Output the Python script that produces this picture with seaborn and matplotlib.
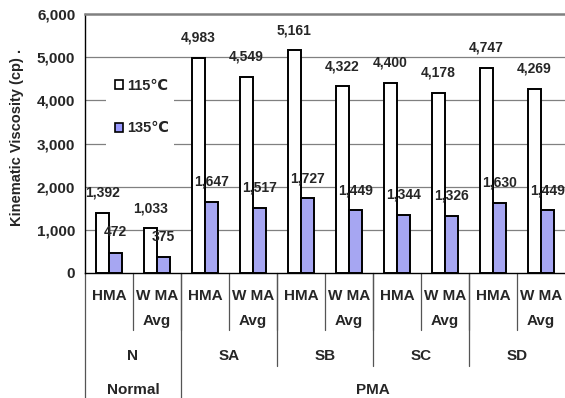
import matplotlib
matplotlib.use("Agg")
import matplotlib.pyplot as plt
import matplotlib.transforms as mtransforms
from matplotlib.patches import Patch, Rectangle
from matplotlib.lines import Line2D
import seaborn as sns
import pandas as pd

# ---- data -------------------------------------------------------------
mix_labels = ["HMA", "W MA\nAvg"] * 5
binder_labels = ["N", "SA", "SB", "SC", "SD"]
type_labels = ["Normal", "PMA"]
temps = ["115\u2103", "135\u2103"]
visc_115 = [1392, 1033, 4983, 4549, 5161, 4322, 4400, 4178, 4747, 4269]
visc_135 = [472, 375, 1647, 1517, 1727, 1449, 1344, 1326, 1630, 1449]

sns.set_theme(style="white")
plt.rcParams["font.family"] = ["Liberation Sans", "DejaVu Sans"]
plt.rcParams["font.weight"] = "bold"

cats = [f"{binder_labels[i // 2]}-{mix_labels[i]}" for i in range(len(mix_labels))]
df = pd.DataFrame({
    "cat": cats * 2,
    "temp": [temps[0]] * len(cats) + [temps[1]] * len(cats),
    "visc": visc_115 + visc_135,
})

W, H = 565, 398
fig = plt.figure(figsize=(W / 100, H / 100), dpi=100)
ax_l, ax_r, ax_t, ax_b = 85, 565, 14, 273
ax_w, ax_h = ax_r - ax_l, ax_b - ax_t
ax = fig.add_axes([ax_l / W, 1 - ax_b / H, ax_w / W, ax_h / H])


def ax_x(px):
    return (px - ax_l) / ax_w


def ax_y(py):
    return (ax_b - py) / ax_h


sns.barplot(data=df, x="cat", y="visc", hue="temp", order=cats, hue_order=temps,
            palette=["white", "#9999FF"], width=0.56, gap=0,
            edgecolor="black", linewidth=1.4, ax=ax, legend=False, zorder=3)

ax.set_xlim(-0.5, 9.5)
ax.set_ylim(0, 6000)
ax.set_yticks(range(0, 6001, 1000))
ax.set_yticklabels([f"{v:,}" for v in range(0, 6001, 1000)], fontsize=11, fontweight="bold")
ax.tick_params(axis="y", length=0, pad=7)
ax.set_xticks([])
ax.set_xlabel("")
ax.set_ylabel("")

for y in range(1000, 6000, 1000):
    ax.axhline(y, color="#808080", lw=0.9, zorder=1)
ax.spines["right"].set_visible(False)
ax.spines["top"].set_color("#808080")
ax.spines["top"].set_linewidth(1.8)
ax.spines["left"].set_color("black")
ax.spines["left"].set_linewidth(1.0)
ax.spines["bottom"].set_color("black")
ax.spines["bottom"].set_linewidth(1.0)

# value labels above each bar
for cont, vals in zip(ax.containers, [visc_115, visc_135]):
    for bar, v in zip(cont, vals):
        ax.annotate(f"{v:,}", (bar.get_x() + bar.get_width() / 2, v),
                    xytext=(0, 14.5), textcoords="offset points",
                    ha="center", va="center", fontsize=10, fontweight="bold",
                    zorder=5)

# legend on a white patch that masks the gridlines
ax.add_patch(Rectangle((ax_x(106), ax_y(148)), ax_x(174) - ax_x(106), ax_y(60) - ax_y(148),
                       transform=ax.transAxes, facecolor="white", edgecolor="none",
                       zorder=2))
handles = [Patch(facecolor="white", edgecolor="black", lw=1.2),
           Patch(facecolor="#9999FF", edgecolor="black", lw=1.2)]
leg = ax.legend(handles, temps, loc="upper left",
                bbox_to_anchor=(ax_x(115), ax_y(79)),
                frameon=False, fontsize=10.5, handlelength=0.55, handleheight=0.55,
                handletextpad=0.25, labelspacing=1.95, borderpad=0, borderaxespad=0)
leg.set_zorder(4)
for t in leg.get_texts():
    t.set_fontweight("bold")

# multi-level category axis
trans = mtransforms.blended_transform_factory(ax.transData, ax.transAxes)


def fy(px):
    return -px / ax_h


cat_fs = 11
line_kw = dict(color="#555555", lw=0.9, transform=trans, clip_on=False)
for i, lab in enumerate(mix_labels):
    for j, part in enumerate(lab.split("\n")):
        ax.text(i, fy(23 + 25 * j), part, transform=trans, ha="center", va="center",
                fontsize=cat_fs, fontweight="bold")
for b in [k + 0.5 for k in range(9)]:
    ax.add_line(Line2D([b, b], [0, fy(57)], **line_kw))
for k, lab in enumerate(binder_labels):
    ax.text(2 * k + 0.5, fy(83), lab, transform=trans, ha="center", va="center",
            fontsize=cat_fs, fontweight="bold")
for b in [3.5, 5.5, 7.5]:
    ax.add_line(Line2D([b, b], [0, fy(93)], **line_kw))
for b in [-0.5, 1.5]:
    ax.add_line(Line2D([b, b], [0, fy(130)], **line_kw))
ax.text(0.5, fy(117), type_labels[0], transform=trans, ha="center", va="center",
        fontsize=cat_fs, fontweight="bold")
ax.text(5.5, fy(117), type_labels[1], transform=trans, ha="center", va="center",
        fontsize=cat_fs, fontweight="bold")

fig.text(17 / W, 1 - 137 / H, "Kinematic Viscosity (cp) .", rotation=90,
         ha="center", va="center", fontsize=10.5, fontweight="bold")

fig.savefig("out.png", dpi=100)
